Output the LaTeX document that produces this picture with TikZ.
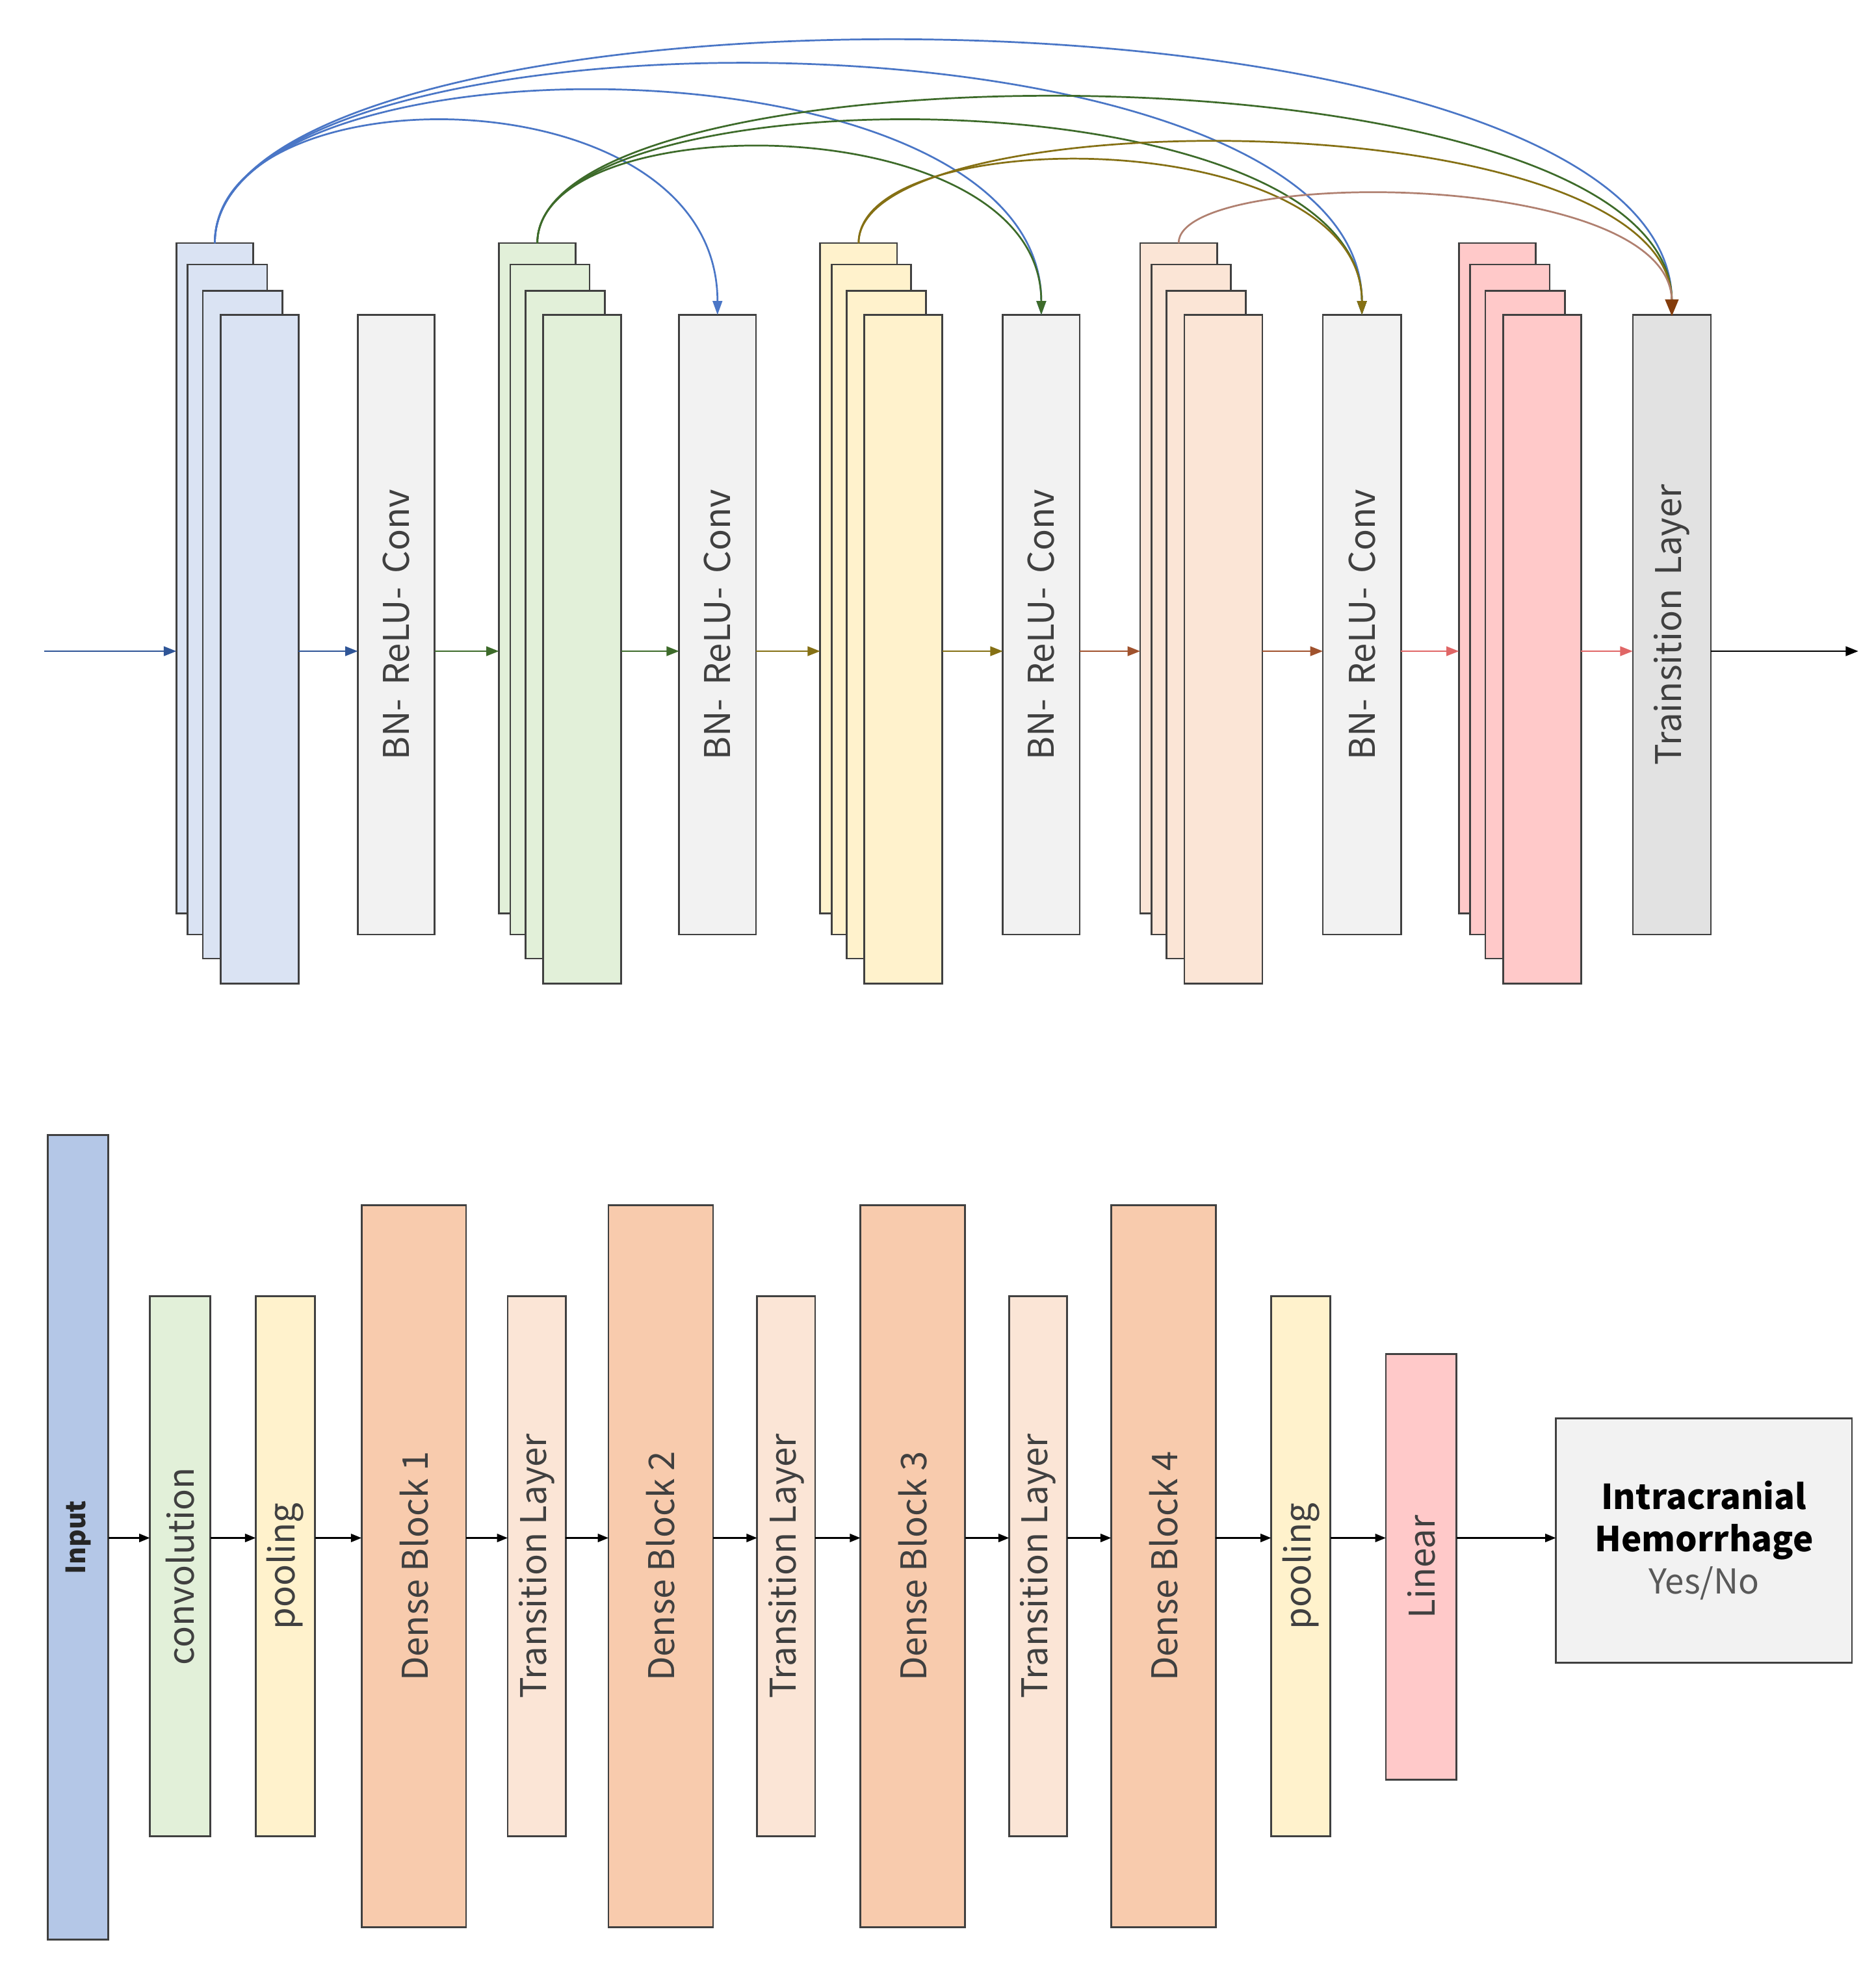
\documentclass[tikz,border=0pt]{standalone}
\usepackage{fontspec}
\setmainfont{Noto Sans CJK JP}
\usetikzlibrary{arrows.meta,calc}
\definecolor{boxline}{HTML}{404040}
\definecolor{txt}{HTML}{404040}
\definecolor{fblue}{HTML}{DAE3F3}
\definecolor{fgreen}{HTML}{E2F0D9}
\definecolor{fyellow}{HTML}{FFF2CC}
\definecolor{fpeach}{HTML}{FBE5D6}
\definecolor{fpink}{HTML}{FFC9C9}
\definecolor{fgray}{HTML}{F2F2F2}
\definecolor{fgrayd}{HTML}{E2E2E2}
\definecolor{finput}{HTML}{B4C7E7}
\definecolor{fdense}{HTML}{F8CBAD}
\definecolor{cblue}{HTML}{4A76C6}
\definecolor{cdblue}{HTML}{2F5597}
\definecolor{cgreen}{HTML}{3D6B2A}
\definecolor{cgold}{HTML}{857014}
\definecolor{cbrown}{HTML}{A0522D}
\definecolor{cpeach}{HTML}{B08070}
\definecolor{cred}{HTML}{E06666}
\definecolor{carrowbr}{HTML}{843C0C}
\newcommand{\mkbox}[6]{%
  \node[box, fill=#6, minimum width={((#4)-(#2))*0.02cm}, minimum height={((#5)-(#3))*0.02cm}] (#1) at (#2,#3) {};}
\newcommand{\mkstack}[3]{%
  \mkbox{#1a}{#2}{193}{#2+61}{725}{#3}
  \mkbox{#1b}{#2+9}{210}{#2+72}{742}{#3}
  \mkbox{#1c}{#2+21}{231}{#2+84}{761}{#3}
  \mkbox{#1d}{#2+35}{250}{#2+97}{781}{#3}}
\begin{document}
\begin{tikzpicture}[x=0.02cm,y=-0.02cm,
  box/.style={draw=boxline, line width=0.8pt, inner sep=0pt, outer sep=0pt, anchor=north west},
  lbl/.style={rotate=90, font=\fontsize{16}{19}\selectfont, text=txt, inner sep=0pt},
  tip/.style={-{Triangle[length=0.2cm,width=0.15cm]}, line width=0.8pt},
  skip/.style={-{Triangle[length=0.22cm,width=0.15cm]}, line width=0.8pt}]
\useasboundingbox (0,0) rectangle (1489,1568);
% ---------- top: dense block detail ----------
\coordinate (ty) at (0,517);
\coordinate (tin) at (35,517);
\coordinate (tout) at (1475,517);
\mkstack{sa}{140}{fblue}
\mkbox{bna}{284}{250}{345}{742}{fgray}
\mkstack{sb}{396}{fgreen}
\mkbox{bnb}{539}{250}{600}{742}{fgray}
\mkstack{sc}{651}{fyellow}
\mkbox{bnc}{796}{250}{857}{742}{fgray}
\mkstack{sd}{905}{fpeach}
\mkbox{bnd}{1050}{250}{1112}{742}{fgray}
\mkstack{se}{1158}{fpink}
\mkbox{tr}{1296}{250}{1358}{742}{fgrayd}
\foreach \n in {bna,bnb,bnc,bnd}{\node[lbl] (\n-t) at (\n.center) {BN-\, ReLU-\, Conv};}
\node[lbl] (tr-t) at (tr.center) {Trainsition\, Layer};
% horizontal arrows
\draw[tip, cdblue] (tin) -- (saa.west |- ty);
\draw[tip, cdblue] (sad.east |- ty) -- (bna.west |- ty);
\draw[tip, cgreen] (bna.east |- ty) -- (sba.west |- ty);
\draw[tip, cgreen] (sbd.east |- ty) -- (bnb.west |- ty);
\draw[tip, cgold] (bnb.east |- ty) -- (sca.west |- ty);
\draw[tip, cgold] (scd.east |- ty) -- (bnc.west |- ty);
\draw[tip, cbrown] (bnc.east |- ty) -- (sda.west |- ty);
\draw[tip, cbrown] (sdd.east |- ty) -- (bnd.west |- ty);
\draw[tip, cred] (bnd.east |- ty) -- (sea.west |- ty);
\draw[tip, cred] (sed.east |- ty) -- (tr.west |- ty);
\draw[tip, black] (tr.east |- ty) -- (tout);
% skip connections
\draw[skip, cblue] (saa.north) .. controls +(0,-138) and +(0,-195) .. (bnb.north);
\draw[skip, cblue] (saa.north) .. controls +(0,-170) and +(0,-227) .. (bnc.north);
\draw[skip, cblue] (saa.north) .. controls +(0,-198) and +(0,-255) .. (bnd.north);
\draw[skip, cblue] (saa.north) .. controls +(0,-223) and +(0,-280) .. (tr.north);
\draw[skip, cgreen] (sba.north) .. controls +(0,-110) and +(0,-167) .. (bnc.north);
\draw[skip, cgreen] (sba.north) .. controls +(0,-138) and +(0,-195) .. (bnd.north);
\draw[skip, cgreen] (sba.north) .. controls +(0,-163) and +(0,-220) .. (tr.north);
\draw[skip, cgold] (sca.north) .. controls +(0,-96) and +(0,-153) .. (bnd.north);
\draw[skip, cgold] (sca.north) .. controls +(0,-115) and +(0,-172) .. (tr.north);
\draw[skip, cpeach] (sda.north) .. controls +(0,-60) and +(0,-117) .. (tr.north);
\draw[carrowbr, fill=carrowbr] ($(tr.north)+(-5,-12)$) -- (tr.north) -- ($(tr.north)+(5,-12)$) -- cycle;
% ---------- bottom: network ----------
\coordinate (by) at (0,1221);
\mkbox{inp}{38}{901}{86}{1540}{finput}
\mkbox{conv}{119}{1029}{167}{1458}{fgreen}
\mkbox{poola}{203}{1029}{250}{1458}{fyellow}
\mkbox{dba}{287}{957}{370}{1530}{fdense}
\mkbox{tla}{403}{1029}{449}{1458}{fpeach}
\mkbox{dbb}{483}{957}{566}{1530}{fdense}
\mkbox{tlb}{601}{1029}{647}{1458}{fpeach}
\mkbox{dbc}{683}{957}{766}{1530}{fdense}
\mkbox{tlc}{801}{1029}{847}{1458}{fpeach}
\mkbox{dbd}{882}{957}{965}{1530}{fdense}
\mkbox{poolb}{1009}{1029}{1056}{1458}{fyellow}
\mkbox{lin}{1100}{1075}{1156}{1413}{fpink}
\mkbox{res}{1235}{1126}{1470}{1320}{fgray}
\node[lbl, font=\fontsize{12}{14}\selectfont\bfseries, text=black!85] (inp-t) at (inp.center) {Input};
\node[lbl] (conv-t) at (conv.center) {convolution};
\node[lbl] (poola-t) at (poola.center) {pooling};
\node[lbl] (dba-t) at (dba.center) {Dense Block 1};
\node[lbl] (tla-t) at (tla.center) {Transition Layer};
\node[lbl] (dbb-t) at (dbb.center) {Dense Block 2};
\node[lbl] (tlb-t) at (tlb.center) {Transition Layer};
\node[lbl] (dbc-t) at (dbc.center) {Dense Block 3};
\node[lbl] (tlc-t) at (tlc.center) {Transition Layer};
\node[lbl] (dbd-t) at (dbd.center) {Dense Block 4};
\node[lbl] (poolb-t) at (poolb.center) {pooling};
\node[lbl] (lin-t) at (lin.center) {Linear};
\node[align=center, inner sep=0pt, font=\fontsize{15.5}{19}\selectfont] (res-t) at (res.center)
  {\textbf{Intracranial}\\\textbf{Hemorrhage}\\\textcolor{black!65}{Yes/No}};
\foreach \a/\b in {inp/conv,conv/poola,poola/dba,dba/tla,tla/dbb,dbb/tlb,tlb/dbc,dbc/tlc,tlc/dbd,dbd/poolb,poolb/lin,lin/res}
  {\draw[-{Triangle[length=0.17cm,width=0.13cm]}, line width=0.8pt, black] (\a.east |- by) -- (\b.west |- by);}
\end{tikzpicture}
\end{document}
